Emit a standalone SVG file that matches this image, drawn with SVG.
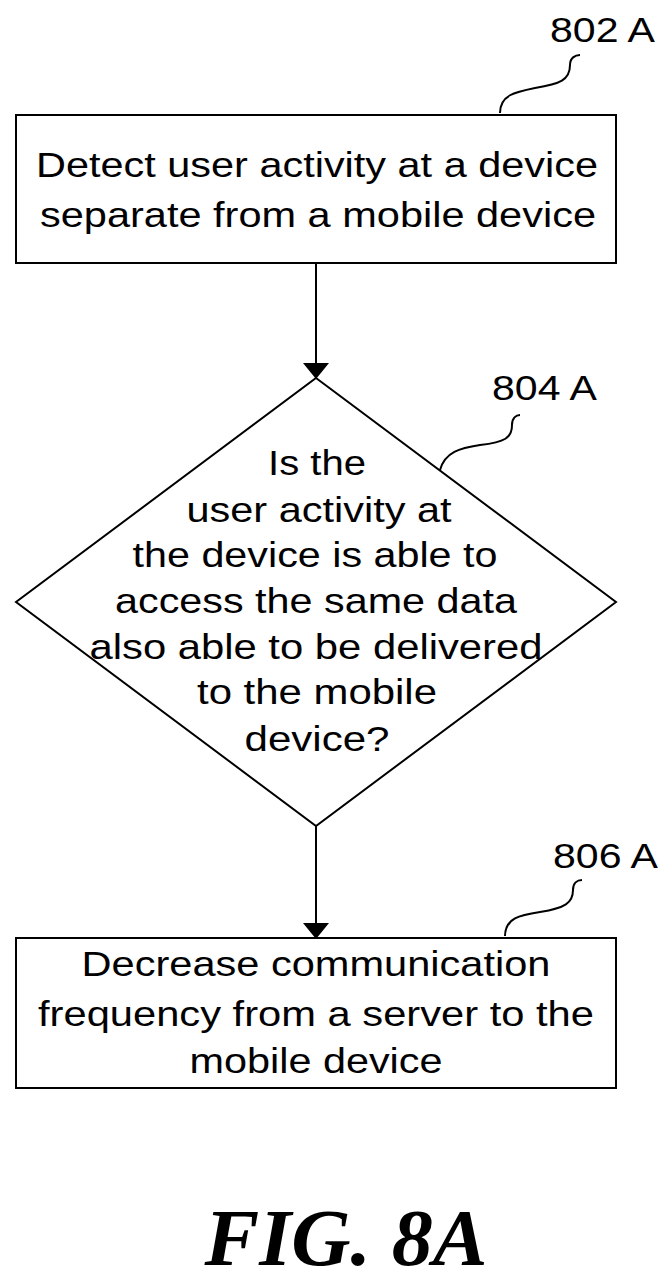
<svg xmlns="http://www.w3.org/2000/svg" width="669" height="1280" viewBox="0 0 669 1280">
<style>
.s{fill:none;stroke:#000;stroke-width:2}
.t{font-family:"Liberation Sans",Arial,sans-serif;font-size:35px;text-anchor:middle;fill:#000}
.l{font-family:"Liberation Sans",Arial,sans-serif;font-size:35px;fill:#000}
</style>
<defs><marker id="a" markerWidth="16" markerHeight="26" refX="15" refY="13" orient="auto" markerUnits="userSpaceOnUse"><path d="M0,0 L16,13 L0,26 Z" fill="#000"/></marker></defs>
<g id="n802"><rect class="s" x="16" y="115" width="600" height="148"/>
<text class="t" x="317" y="177" textLength="562" lengthAdjust="spacingAndGlyphs">Detect user activity at a device</text>
<text class="t" x="318" y="227" textLength="556" lengthAdjust="spacingAndGlyphs">separate from a mobile device</text>
<text class="l" x="550" y="42" textLength="105" lengthAdjust="spacingAndGlyphs">802 A</text>
<path class="s" d="M500,113 C500,95 515,92 535,88 C560,84 570,80 570,65 C570,58 575,55 580,55"/></g>
<g id="n804"><polygon class="s" points="316,378 616,602 316,826 16,602"/>
<text class="t" x="317" y="475" textLength="98" lengthAdjust="spacingAndGlyphs">Is the</text>
<text class="t" x="319" y="522" textLength="265" lengthAdjust="spacingAndGlyphs">user activity at</text>
<text class="t" x="315" y="567" textLength="365" lengthAdjust="spacingAndGlyphs">the device is able to</text>
<text class="t" x="316" y="613" textLength="402" lengthAdjust="spacingAndGlyphs">access the same data</text>
<text class="t" x="316" y="659" textLength="453" lengthAdjust="spacingAndGlyphs">also able to be delivered</text>
<text class="t" x="317" y="704" textLength="240" lengthAdjust="spacingAndGlyphs">to the mobile</text>
<text class="t" x="317" y="751" textLength="145" lengthAdjust="spacingAndGlyphs">device?</text>
<text class="l" x="492" y="400" textLength="105" lengthAdjust="spacingAndGlyphs">804 A</text>
<path class="s" d="M440,470 C445,452 460,448 480,445 C505,442 512,438 512,425 C512,418 516,415 520,415"/></g>
<g id="n806"><rect class="s" x="16" y="938" width="600" height="150"/>
<text class="t" x="316" y="976" textLength="469" lengthAdjust="spacingAndGlyphs">Decrease communication</text>
<text class="t" x="316" y="1026" textLength="556" lengthAdjust="spacingAndGlyphs">frequency from a server to the</text>
<text class="t" x="316" y="1073" textLength="253" lengthAdjust="spacingAndGlyphs">mobile device</text>
<text class="l" x="553" y="868" textLength="105" lengthAdjust="spacingAndGlyphs">806 A</text>
<path class="s" d="M505,936 C505,918 520,915 540,912 C565,908 573,903 573,890 C573,883 577,880 582,880"/></g>
<g id="connectors">
<line class="s" x1="316" y1="263" x2="316" y2="378" marker-end="url(#a)"/>
<line class="s" x1="316" y1="826" x2="316" y2="938" marker-end="url(#a)"/>
</g>
<text x="346" y="1265" textLength="283" lengthAdjust="spacingAndGlyphs" style="font-family:'Liberation Serif','Times New Roman',serif;font-size:80px;font-weight:bold;font-style:italic;text-anchor:middle">FIG. 8A</text>
</svg>
